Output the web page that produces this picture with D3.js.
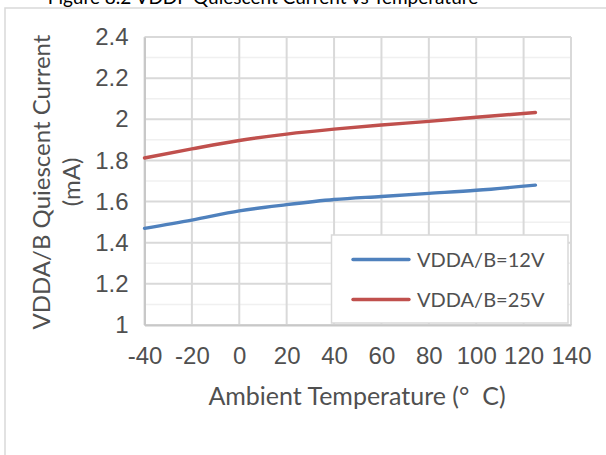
<!DOCTYPE html>
<html>
<head>
<meta charset="utf-8">
<script src="https://cdn.jsdelivr.net/npm/d3@7"></script>
<style>
  body { margin: 0; background: #fff; }
  svg { display: block; font-family: Lato, "Liberation Sans", sans-serif; }
  .tick text { fill: #505050; font-size: 24px; }
</style>
</head>
<body>
<svg id="chart"></svg>
<script>
// temperatures (°C) where the curves were sampled
const temps = [-40, -20, 0, 20, 40, 60, 80, 100, 125];
// quiescent current (mA)
const vdd12 = [1.47, 1.51, 1.555, 1.585, 1.61, 1.625, 1.64, 1.655, 1.68];
const vdd25 = [1.812, 1.856, 1.897, 1.928, 1.952, 1.972, 1.99, 2.01, 2.033];
const seriesNames = ["VDDA/B=12V", "VDDA/B=25V"];
const seriesColors = ["#4f81bd", "#c0504d"];
const xTicks = [-40, -20, 0, 20, 40, 60, 80, 100, 120, 140];
const yTicks = [1, 1.2, 1.4, 1.6, 1.8, 2, 2.2, 2.4];
const yMinor = [1.1, 1.3, 1.5, 1.7, 1.9, 2.1, 2.3];

const W = 606, H = 455;
const plot = { left: 144.5, right: 571, top: 37, bottom: 325 };

const svg = d3.select("#chart").attr("width", W).attr("height", H);

// chart frame (runs off the right/bottom edge like the reference crop)
svg.append("rect")
    .attr("x", 5).attr("y", 8)
    .attr("width", 700).attr("height", 600)
    .attr("fill", "#fff")
    .attr("stroke", "#d9d9d9")
    .attr("stroke-width", 1.5);

// title, mostly cut off at the top
svg.append("text")
    .attr("x", 263).attr("y", 4)
    .attr("text-anchor", "middle")
    .attr("font-size", 19)
    .attr("fill", "#000")
    .text("Figure 8.2 VDDP Quiescent Current vs Temperature");

const x = d3.scaleLinear().domain([-40, 140]).range([plot.left, plot.right]);
const y = d3.scaleLinear().domain([1, 2.4]).range([plot.bottom, plot.top]);

// minor horizontal grid
svg.append("g")
    .selectAll("line")
    .data(yMinor)
    .join("line")
    .attr("x1", plot.left).attr("x2", plot.right)
    .attr("y1", d => y(d)).attr("y2", d => y(d))
    .attr("stroke", "#f0f0f0")
    .attr("stroke-width", 1.5);

// major grid
svg.append("g")
    .selectAll("line")
    .data(yTicks)
    .join("line")
    .attr("x1", plot.left).attr("x2", plot.right)
    .attr("y1", d => y(d)).attr("y2", d => y(d))
    .attr("stroke", "#d9d9d9")
    .attr("stroke-width", 2);

svg.append("g")
    .selectAll("line")
    .data(xTicks)
    .join("line")
    .attr("x1", d => x(d)).attr("x2", d => x(d))
    .attr("y1", plot.top).attr("y2", plot.bottom)
    .attr("stroke", "#d9d9d9")
    .attr("stroke-width", 2);

// axes (labels only, Excel style) - plain hyphen for negatives
const xAxis = svg.append("g")
    .attr("transform", `translate(0,${plot.bottom})`)
    .call(d3.axisBottom(x).tickValues(xTicks).tickSize(0).tickPadding(22)
        .tickFormat(d => String(d)));
xAxis.select(".domain").attr("stroke", "#c8c8c8").attr("stroke-width", 2);

const yAxis = svg.append("g")
    .attr("transform", `translate(${plot.left},0)`)
    .call(d3.axisLeft(y).tickValues(yTicks).tickSize(0).tickPadding(16)
        .tickFormat(d => String(+d.toFixed(1))));
yAxis.select(".domain").attr("stroke", "#c8c8c8").attr("stroke-width", 2);
svg.selectAll(".tick text").attr("font-family", null).attr("font-size", null);

// series
const line = d3.line()
    .x(d => x(d[0]))
    .y(d => y(d[1]))
    .curve(d3.curveMonotoneX);

[vdd12, vdd25].forEach((vals, i) => {
    svg.append("path")
        .datum(temps.map((t, j) => [t, vals[j]]))
        .attr("fill", "none")
        .attr("stroke", seriesColors[i])
        .attr("stroke-width", 3.4)
        .attr("stroke-linecap", "round")
        .attr("d", line);
});

// axis titles
svg.append("text")
    .attr("x", 357).attr("y", 405)
    .attr("text-anchor", "middle")
    .attr("font-size", 25)
    .attr("fill", "#505050")
    .style("white-space", "pre")
    .text("Ambient Temperature (°  C)");

const yTitle = [["VDDA/B Quiescent Current", 50], ["(mA)", 80]];
yTitle.forEach(([t, bx]) => {
    svg.append("text")
        .attr("transform", `translate(${bx},182) rotate(-90)`)
        .attr("text-anchor", "middle")
        .attr("font-size", 24)
        .attr("fill", "#505050")
        .text(t);
});

// legend
const legend = svg.append("g");
legend.append("rect")
    .attr("x", 331.5).attr("y", 235)
    .attr("width", 236.5).attr("height", 88)
    .attr("fill", "#fff")
    .attr("stroke", "#d9d9d9")
    .attr("stroke-width", 1.5);

seriesNames.forEach((name, i) => {
    const ly = 259.5 + i * 40;
    legend.append("line")
        .attr("x1", 353).attr("x2", 409)
        .attr("y1", ly).attr("y2", ly)
        .attr("stroke", seriesColors[i])
        .attr("stroke-width", 3.4)
        .attr("stroke-linecap", "round");
    legend.append("text")
        .attr("x", 417).attr("y", ly)
        .attr("dy", "0.35em")
        .attr("font-size", 20)
        .attr("fill", "#505050")
        .text(name);
});
</script>
</body>
</html>
